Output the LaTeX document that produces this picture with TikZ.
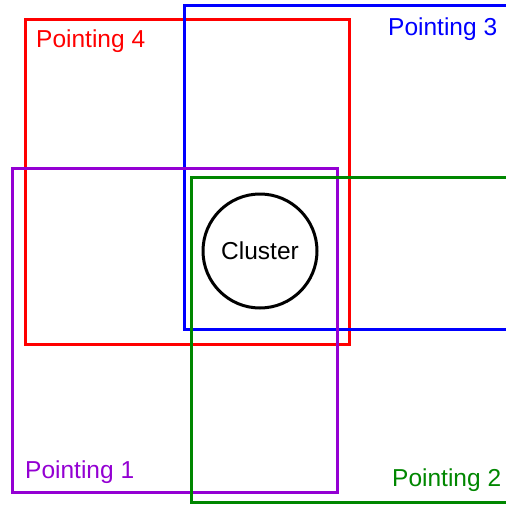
\documentclass[tikz,border=0pt]{standalone}
\usepackage{fontspec}
\setmainfont{Liberation Sans}
\definecolor{pred}{RGB}{255,0,0}
\definecolor{pblue}{RGB}{0,0,255}
\definecolor{ppurple}{RGB}{148,0,211}
\definecolor{pgreen}{RGB}{0,135,0}
\begin{document}
\begin{tikzpicture}[x=1pt,y=-1pt,
  field/.style={draw,line width=3pt,inner sep=0pt,outer sep=0pt,rectangle},
  lbl/.style={anchor=base west,inner sep=0pt,font=\fontsize{24.5}{29}\selectfont},
  clus/.style={draw,line width=3pt,circle,minimum size=114pt,inner sep=0pt,font=\fontsize{24.5}{29}\selectfont}]
\useasboundingbox[fill=white] (0,0) rectangle (506,506);
\node[field,pred,minimum width=324pt,minimum height=325pt] (p4) at (187,181.5) {};
\node[field,pblue,minimum width=336pt,minimum height=324pt] (p3) at (352,167) {};
\node[field,ppurple,minimum width=325pt,minimum height=324pt] (p1) at (174.5,330) {};
\node[field,pgreen,minimum width=329pt,minimum height=325pt] (p2) at (355.5,339.5) {};
\node[clus] (cl) at (260,251) {Cluster};
\node[lbl,pred] (l4) at (36,47) {Pointing 4};
\node[lbl,pblue] (l3) at (388,35) {Pointing 3};
\node[lbl,ppurple] (l1) at (25,478) {Pointing 1};
\node[lbl,pgreen] (l2) at (392,486) {Pointing 2};
\end{tikzpicture}
\end{document}
